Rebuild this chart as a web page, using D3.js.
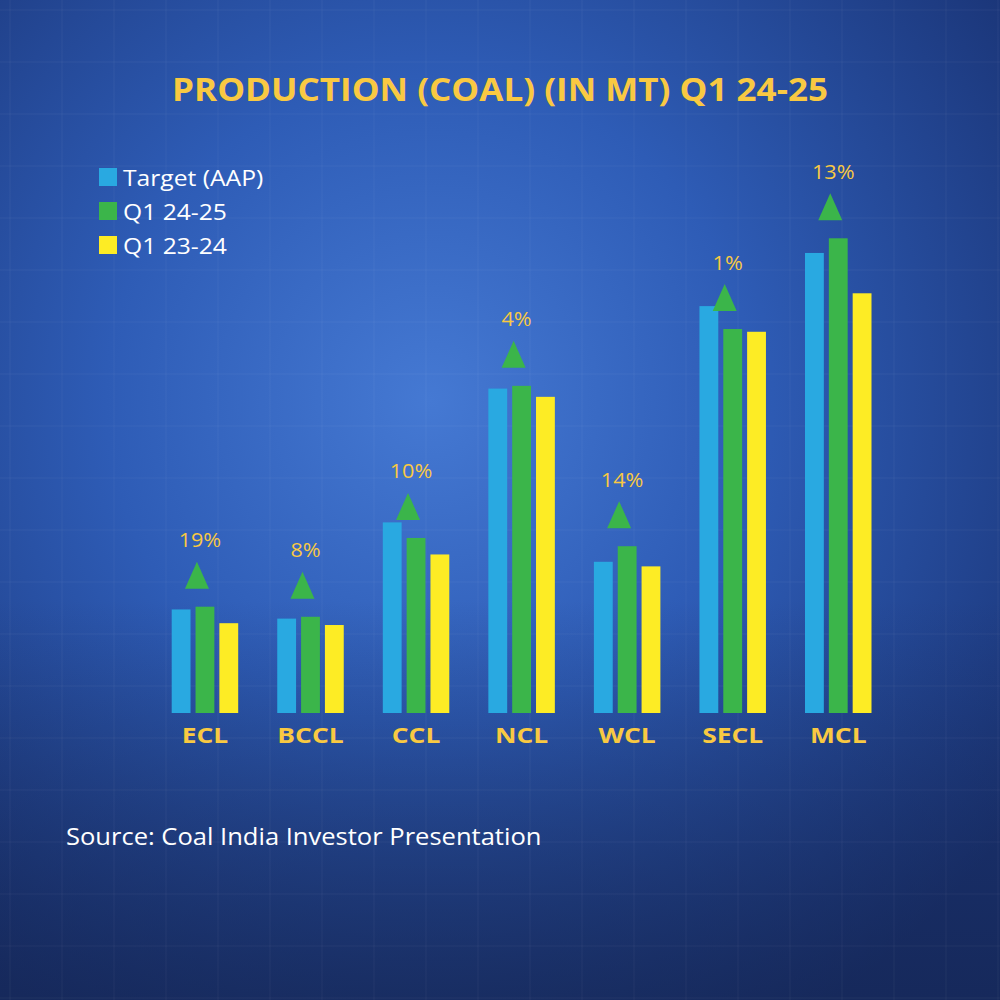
<!DOCTYPE html>
<html>
<head>
<meta charset="utf-8">
<title>Production (Coal) Q1 24-25</title>
<style type="text/css">
	body { margin: 0; background: #1d3a80; }
	svg { display: block; font-family: "Open Sans", "Noto Sans", sans-serif; }
</style>
<script src="https://cdn.jsdelivr.net/npm/d3@7/dist/d3.min.js"></script>
</head>
<body>
<div id="chart"></div>
<script type="text/javascript">
// values in MT
var companies = ['ECL', 'BCCL', 'CCL', 'NCL', 'WCL', 'SECL', 'MCL'];
var seriesNames = ['Target (AAP)', 'Q1 24-25', 'Q1 23-24'];
var target = [11.3, 10.3, 20.8, 35.4, 16.5, 44.4, 50.2];
var q1_2425 = [11.6, 10.5, 19.1, 35.7, 18.2, 41.9, 51.8];
var q1_2324 = [9.8, 9.6, 17.3, 34.5, 16.0, 41.6, 45.8];
var growth = ['19%', '8%', '10%', '4%', '14%', '1%', '13%'];

var colors = ['#29a9e1', '#3bb54a', '#fdec25'];
var textYellow = '#f9c942';

var width = 1000, height = 1000;
var svg = d3.select('#chart').append('svg')
		.attr('width', width)
		.attr('height', height);

// the original uses a wide geometric face; stretch our text a bit to match
var widen = function(sel, k){
	sel.each(function(){
		var w = this.getComputedTextLength();
		d3.select(this).attr('textLength', w * k).attr('lengthAdjust', 'spacingAndGlyphs');
	});
};

// background
var defs = svg.append('defs');
var rg = defs.append('radialGradient')
		.attr('id', 'bg')
		.attr('cx', '0.43').attr('cy', '0.40').attr('r', '0.72');
rg.append('stop').attr('offset', '0').attr('stop-color', '#4579d3');
rg.append('stop').attr('offset', '0.45').attr('stop-color', '#2e5cb6');
rg.append('stop').attr('offset', '1').attr('stop-color', '#1a3476');
var lg = defs.append('linearGradient')
		.attr('id', 'shade')
		.attr('x1', 0).attr('y1', 0).attr('x2', 0).attr('y2', 1);
lg.append('stop').attr('offset', '0.6').attr('stop-color', '#14234d').attr('stop-opacity', 0);
lg.append('stop').attr('offset', '1').attr('stop-color', '#14234d').attr('stop-opacity', 0.65);

svg.append('rect').attr('width', width).attr('height', height).attr('fill', 'url(#bg)');
svg.append('rect').attr('width', width).attr('height', height).attr('fill', 'url(#shade)');

// faint grid
var grid = svg.append('g').attr('stroke', '#ffffff').attr('stroke-opacity', 0.05);
d3.range(0, width, 52).forEach(function(v){
	grid.append('line').attr('x1', v + 10).attr('x2', v + 10).attr('y1', 0).attr('y2', height);
	grid.append('line').attr('y1', v + 10).attr('y2', v + 10).attr('x1', 0).attr('x2', width);
});

var data = companies.map(function(c, i){
	return { name: c, values: [target[i], q1_2425[i], q1_2324[i]], growth: growth[i] };
});

var x0 = d3.scaleBand()
		.domain(companies)
		.range([171.7, 871.5])
		.paddingInner(0.37)
		.paddingOuter(0);

var x1 = d3.scaleBand()
		.domain(d3.range(seriesNames.length))
		.range([0, x0.bandwidth()])
		.paddingInner(0.21);

var baseY = 713;
var y = d3.scaleLinear()
		.domain([0, 51.8])
		.range([baseY, 238.3]);

var groups = svg.selectAll('.grp')
		.data(data)
	.enter().append('g')
		.attr('class', 'grp')
		.attr('transform', function(d){ return 'translate(' + x0(d.name) + ',0)'; });

groups.selectAll('rect')
		.data(function(d){ return d.values; })
	.enter().append('rect')
		.attr('x', function(d, i){ return x1(i); })
		.attr('width', x1.bandwidth())
		.attr('y', function(d){ return y(d); })
		.attr('height', function(d){ return baseY - y(d); })
		.attr('fill', function(d, i){ return colors[i]; });

// growth triangles + labels, sitting above the Q1 24-25 bar
var triW = 24, triH = 27;
groups.each(function(d){
	var g = d3.select(this);
	var cx = x1(1) + x1.bandwidth() / 2 - 8;
	var bottom = y(d.values[1]) - 18;
	g.append('path')
		.attr('d', 'M' + (cx - triW / 2) + ',' + bottom + 'L' + (cx + triW / 2) + ',' + bottom + 'L' + cx + ',' + (bottom - triH) + 'Z')
		.attr('fill', '#3bb54a');
	g.append('text')
		.attr('class', 'pct')
		.attr('x', cx + 3)
		.attr('y', bottom - triH - 22)
		.attr('text-anchor', 'middle')
		.attr('dominant-baseline', 'central')
		.attr('fill', textYellow)
		.attr('font-size', 20)
		.text(d.growth);
});
widen(svg.selectAll('.pct'), 1.08);

// category labels
var cats = groups.append('text')
		.attr('x', x0.bandwidth() / 2)
		.attr('y', 734)
		.attr('text-anchor', 'middle')
		.attr('dominant-baseline', 'central')
		.attr('fill', textYellow)
		.attr('font-size', 22)
		.attr('font-weight', 'bold')
		.text(function(d){ return d.name; });
widen(cats, 1.2);

// title
var title = svg.append('text')
		.attr('x', 500)
		.attr('y', 88)
		.attr('text-anchor', 'middle')
		.attr('dominant-baseline', 'central')
		.attr('fill', textYellow)
		.attr('font-size', 32)
		.attr('font-weight', 'bold')
		.text('PRODUCTION (COAL) (IN MT) Q1 24-25');
widen(title, 1.095);

// legend
var legend = svg.selectAll('.leg')
		.data(seriesNames)
	.enter().append('g')
		.attr('class', 'leg')
		.attr('transform', function(d, i){ return 'translate(99,' + (177 + i * 34) + ')'; });
legend.append('rect')
		.attr('x', 0).attr('y', -9)
		.attr('width', 18).attr('height', 18)
		.attr('fill', function(d, i){ return colors[i]; });
var legText = legend.append('text')
		.attr('x', 24)
		.attr('y', 0)
		.attr('dominant-baseline', 'central')
		.attr('fill', '#ffffff')
		.attr('font-size', 22)
		.text(function(d){ return d; });
widen(legText, 1.12);

// source
var source = svg.append('text')
		.attr('x', 66)
		.attr('y', 836)
		.attr('dominant-baseline', 'central')
		.attr('fill', '#ffffff')
		.attr('font-size', 23)
		.text('Source: Coal India Investor Presentation');
widen(source, 1.11);
</script>
</body>
</html>
